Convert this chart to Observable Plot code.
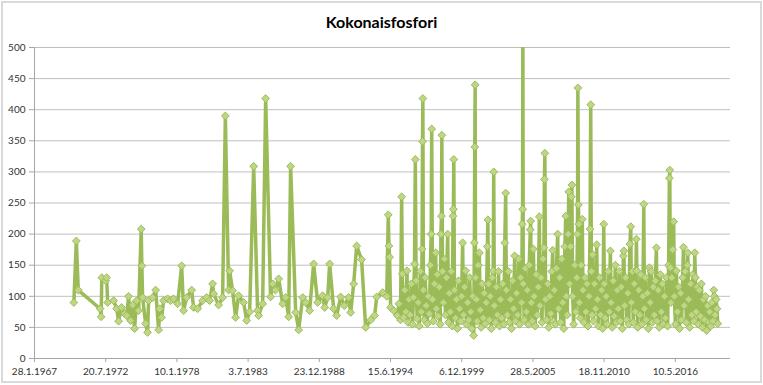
<!DOCTYPE html>
<html><head><meta charset="utf-8">
<script src="https://cdn.jsdelivr.net/npm/d3@7"></script>
<script src="https://cdn.jsdelivr.net/npm/@observablehq/plot@0.6"></script>
<style>
html,body{margin:0;padding:0;background:#fff;}
#wrap{position:relative;width:763px;height:385px;overflow:hidden;background:#fff;}
#frame{position:absolute;left:1px;top:1px;width:761px;height:382px;box-sizing:border-box;border:2px solid #d9d9d9;pointer-events:none;}
#title{position:absolute;left:0;top:14px;width:763px;text-align:center;font:bold 16px Lato,"Open Sans",sans-serif;line-height:16px;color:#000;}
#wrap svg{position:absolute;left:0;top:0;}
</style></head><body>
<div id="wrap"><div id="title">Kokonaisfosfori</div><div id="frame"></div></div>
<script>
// [decimal year, total phosphorus]
const p1970s = [[1970.10,90],[1970.29,189],[1970.44,110],[1972.12,80],[1972.20,67],[1972.25,130],[1972.55,125],[1972.62,130],[1972.70,90],[1973.16,93],[1973.39,80],[1973.54,60],[1973.77,82],[1974.00,72],[1974.16,69],[1974.31,100],[1974.46,61],[1974.62,86],[1974.77,48],[1974.93,93],[1975.08,77],[1975.28,208],[1975.33,149],[1975.39,98],[1975.62,56],[1975.77,42],[1975.85,93],[1976.16,98],[1976.39,110],[1976.62,46],[1976.70,80],[1976.85,66],[1977.00,93],[1977.31,96],[1977.54,93],[1977.77,96],[1978.08,88],[1978.39,149],[1978.54,77],[1978.77,98],[1979.16,110],[1979.31,82],[1979.62,80]];
const p1980s = [[1980.00,93],[1980.31,98],[1980.54,93],[1980.77,120],[1980.85,104],[1981.23,86],[1981.54,98],[1981.75,390],[1982.00,110],[1982.08,141],[1982.31,109],[1982.54,66],[1982.77,101],[1983.16,90],[1983.39,61],[1983.62,75],[1983.93,309],[1984.23,77],[1984.31,69],[1984.62,88],[1984.85,418],[1985.23,99],[1985.39,120],[1985.60,110],[1985.85,128],[1986.16,88],[1986.39,98],[1986.62,67],[1986.77,309],[1987.16,74],[1987.39,46],[1987.70,98],[1987.93,90],[1988.23,77],[1988.54,152],[1988.85,90],[1989.23,101],[1989.39,82],[1989.62,98],[1989.77,152]];
const p1990s = [[1990.08,80],[1990.31,69],[1990.62,99],[1990.90,85],[1991.23,98],[1991.39,74],[1991.62,120],[1991.85,181],[1992.23,159],[1992.54,50],[1992.93,62],[1993.23,69],[1993.39,99],[1993.85,106],[1994.16,100],[1994.28,231],[1994.33,181],[1994.38,163],[1994.46,82],[1994.70,77],[1994.98,69],
[1995.10,88],[1995.22,62],[1995.31,260],[1995.36,136],[1995.45,66],[1995.55,110],[1995.64,75],[1995.72,141],[1995.80,58],[1995.88,95],[1995.96,70],
[1996.05,120],[1996.14,55],[1996.22,98],[1996.30,152],[1996.36,320],[1996.42,125],[1996.50,64],[1996.58,90],[1996.66,52],[1996.74,140],[1996.82,75],[1996.88,176],[1996.91,349],[1996.94,418],[1996.98,110],
[1997.05,62],[1997.12,130],[1997.20,85],[1997.28,56],[1997.36,100],[1997.44,72],[1997.52,150],[1997.58,200],[1997.62,369],[1997.68,95],[1997.75,60],[1997.83,120],[1997.93,170],[1997.98,80],
[1998.05,135],[1998.12,68],[1998.20,115],[1998.27,55],[1998.33,200],[1998.37,229],[1998.40,359],[1998.45,140],[1998.52,90],[1998.60,160],[1998.68,70],[1998.76,130],[1998.85,200],[1998.92,58],[1998.98,105],
[1999.05,75],[1999.12,140],[1999.20,52],[1999.26,229],[1999.29,240],[1999.32,320],[1999.37,110],[1999.45,65],[1999.52,95],[1999.60,48],[1999.68,125],[1999.76,80],[1999.84,60],[1999.92,100]];
const p2000s = [[2000.00,186],[2000.07,70],[2000.15,115],[2000.23,141],[2000.30,55],[2000.38,90],[2000.46,62],[2000.54,130],[2000.62,75],[2000.70,48],[2000.78,100],[2000.85,37],[2000.90,186],[2000.93,340],[2000.96,440],[2000.99,130],
[2001.05,95],[2001.12,60],[2001.20,150],[2001.28,170],[2001.35,78],[2001.42,50],[2001.50,120],[2001.58,65],[2001.66,105],[2001.74,56],[2001.82,90],[2001.90,180],[2001.94,223],[2001.98,120],
[2002.05,62],[2002.12,100],[2002.20,48],[2002.28,130],[2002.35,141],[2002.39,300],[2002.44,85],[2002.52,58],[2002.60,115],[2002.68,70],[2002.76,140],[2002.84,52],[2002.92,95],
[2003.00,65],[2003.08,120],[2003.16,55],[2003.24,186],[2003.31,266],[2003.36,110],[2003.44,70],[2003.52,140],[2003.60,58],[2003.68,95],[2003.76,48],[2003.84,125],[2003.92,80],
[2004.00,165],[2004.07,60],[2004.15,105],[2004.23,70],[2004.31,160],[2004.38,55],[2004.46,130],[2004.54,90],[2004.58,216],[2004.61,240],[2004.63,560],[2004.66,120],[2004.74,62],[2004.82,145],[2004.90,75],[2004.97,110],
[2005.05,55],[2005.12,150],[2005.20,207],[2005.23,221],[2005.28,90],[2005.36,60],[2005.44,176],[2005.50,100],[2005.58,52],[2005.66,135],[2005.74,70],[2005.82,115],[2005.90,228],[2005.95,85],
[2006.02,130],[2006.10,58],[2006.18,160],[2006.25,178],[2006.29,288],[2006.32,330],[2006.38,95],[2006.46,62],[2006.54,120],[2006.62,50],[2006.70,100],[2006.78,72],[2006.86,140],[2006.93,174],[2006.98,60],
[2007.05,110],[2007.13,55],[2007.21,145],[2007.31,200],[2007.38,80],[2007.46,130],[2007.54,58],[2007.62,160],[2007.70,90],[2007.78,48],[2007.86,180],[2007.93,229],[2007.98,100],
[2008.05,70],[2008.12,200],[2008.16,268],[2008.22,120],[2008.30,180],[2008.36,260],[2008.40,279],[2008.46,100],[2008.54,55],[2008.62,150],[2008.70,75],[2008.78,130],[2008.83,200],[2008.86,435],[2008.90,247],[2008.94,216],[2008.98,90],
[2009.05,65],[2009.12,150],[2009.20,224],[2009.25,110],[2009.32,58],[2009.40,130],[2009.48,75],[2009.56,120],[2009.64,52],[2009.72,100],[2009.80,208],[2009.85,408],[2009.90,140],[2009.96,70]];
const p2010s = [[2010.00,167],[2010.06,60],[2010.14,120],[2010.22,80],[2010.31,183],[2010.37,95],[2010.45,52],[2010.53,130],[2010.61,70],[2010.69,110],[2010.77,48],[2010.85,216],[2010.90,120],[2010.96,65],
[2011.04,100],[2011.12,55],[2011.20,140],[2011.28,75],[2011.36,173],[2011.42,90],[2011.50,50],[2011.58,125],[2011.66,68],[2011.74,150],[2011.82,58],[2011.90,110],[2011.97,80],
[2012.05,140],[2012.12,60],[2012.20,115],[2012.28,48],[2012.36,165],[2012.40,173],[2012.46,85],[2012.54,130],[2012.62,62],[2012.70,105],[2012.78,55],[2012.86,184],[2012.93,212],[2012.98,90],
[2013.05,140],[2013.12,58],[2013.20,120],[2013.28,75],[2013.36,192],[2013.40,141],[2013.46,50],[2013.54,110],[2013.62,70],[2013.70,135],[2013.78,55],[2013.86,100],[2013.93,248],[2013.98,80],
[2014.05,130],[2014.12,62],[2014.20,105],[2014.28,48],[2014.36,146],[2014.42,90],[2014.50,140],[2014.58,58],[2014.66,115],[2014.74,70],[2014.82,125],[2014.90,178],[2014.96,60],
[2015.04,110],[2015.12,50],[2015.20,135],[2015.28,75],[2015.36,120],[2015.44,55],[2015.52,100],[2015.60,65],[2015.68,130],[2015.76,52],[2015.84,150],[2015.90,290],[2015.93,303],[2015.97,146],
[2016.02,90],[2016.08,130],[2016.16,175],[2016.23,220],[2016.28,100],[2016.36,55],[2016.44,141],[2016.52,75],[2016.60,115],[2016.68,48],[2016.76,105],[2016.84,62],[2016.92,130],[2016.98,179],
[2017.04,85],[2017.12,140],[2017.20,58],[2017.28,150],[2017.31,170],[2017.38,95],[2017.46,50],[2017.54,120],[2017.62,70],[2017.70,135],[2017.78,60],[2017.85,170],[2017.90,130],[2017.96,75],
[2018.04,115],[2018.12,55],[2018.20,110],[2018.28,68],[2018.36,120],[2018.44,50],[2018.52,95],[2018.60,62],[2018.68,100],[2018.76,45],[2018.84,85],[2018.92,58],
[2019.00,75],[2019.08,52],[2019.16,90],[2019.24,60],[2019.31,110],[2019.36,100],[2019.42,70],[2019.50,95],[2019.56,80],[2019.62,56]];

const xTickLabels = ["28.1.1967","20.7.1972","10.1.1978","3.7.1983","23.12.1988","15.6.1994","6.12.1999","28.5.2005","18.11.2010","10.5.2016"];
const yTicks = [0,50,100,150,200,250,300,350,400,450,500];

const parse = d3.timeParse("%d.%m.%Y");
const xTicks = xTickLabels.map(parse);
const xStart = xTicks[0];
const xEnd = d3.timeDay.offset(xStart, 19550);
const toDate = t => { const y = Math.floor(t); const s = new Date(y,0,1), e = new Date(y+1,0,1); return new Date(+s + (t - y) * (e - s)); };
const samples = [...p1970s, ...p1980s, ...p1990s, ...p2000s, ...p2010s].map(([t, v]) => ({date: toDate(t), value: v}));
const fmt = d3.timeFormat("%-d.%-m.%Y");

const chart = Plot.plot({
  width: 763, height: 385,
  marginLeft: 34, marginRight: 33, marginTop: 47, marginBottom: 27,
  style: {fontFamily: "Lato, 'Open Sans', sans-serif", fontSize: "10px", background: "transparent", color: "#333"},
  x: {type: "time", domain: [xStart, xEnd]},
  y: {domain: [0, 500]},
  marks: [
    Plot.gridY(yTicks, {stroke: "#c0c0c0", strokeOpacity: 1, strokeWidth: 1}),
    Plot.ruleX([xStart], {stroke: "#a6a6a6"}),
    Plot.ruleY([0], {stroke: "#a6a6a6"}),
    Plot.axisY({ticks: yTicks, tickSize: 5, tickPadding: 4, stroke: "#a6a6a6", fill: "#333", label: null}),
    Plot.axisX({ticks: xTicks, tickSize: 4, tickPadding: 5, tickFormat: fmt, stroke: "#a6a6a6", fill: "#333", label: null}),
    Plot.line(samples, {x: "date", y: "value", stroke: "#9bbb59", strokeWidth: 3.5, strokeLinejoin: "round", clip: true}),
    Plot.dot(samples, {x: "date", y: "value", symbol: "diamond2", r: 3.5, fill: "#bfd684", stroke: "#9cbc5a", strokeWidth: 1, clip: true})
  ]
});
document.getElementById("wrap").insertBefore(chart, document.getElementById("title"));
</script>
</body></html>
